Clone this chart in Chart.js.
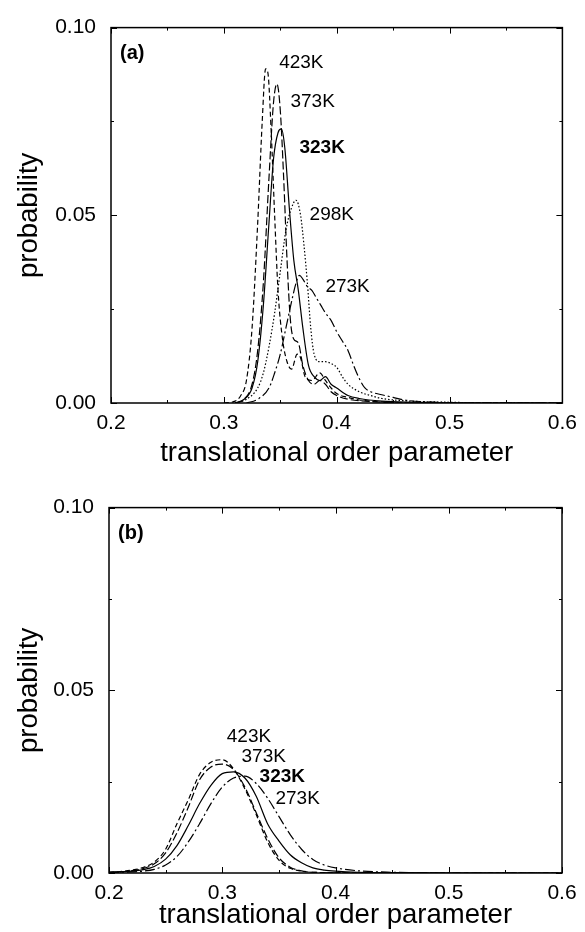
<!DOCTYPE html>
<html>
<head>
<meta charset="utf-8">
<script src="https://cdn.jsdelivr.net/npm/chart.js@4.4.1/dist/chart.umd.min.js"></script>
<style>
  html, body { margin: 0; padding: 0; background: #fff; }
  #wrap { position: relative; width: 585px; height: 932px; }
  canvas { position: absolute; left: 0; }
  #chartA { top: 0; }
  #chartB { top: 480px; }
</style>
</head>
<body>
<div id="wrap">
  <canvas id="chartA" width="585" height="480"></canvas>
  <canvas id="chartB" width="585" height="452"></canvas>
</div>
<script>
// (a) translational order parameter distributions, [x, probability]
const a423 = [[0.300,0],[0.310,0.0005],[0.315,0.002],[0.320,0.006],[0.325,0.02],[0.330,0.048],[0.334,0.075],[0.337,0.089],[0.339,0.088],[0.342,0.072],[0.345,0.05],[0.348,0.03],[0.352,0.017],[0.356,0.011],[0.360,0.009],[0.365,0.013],[0.368,0.012],[0.372,0.007],[0.378,0.006],[0.385,0.008],[0.390,0.006],[0.395,0.004],[0.400,0.0025],[0.410,0.0015],[0.420,0.0008],[0.440,0.0003],[0.470,0],[0.600,0]];
const a373 = [[0.310,0],[0.318,0.001],[0.325,0.005],[0.330,0.014],[0.335,0.032],[0.340,0.06],[0.344,0.08],[0.347,0.085],[0.350,0.078],[0.353,0.06],[0.356,0.038],[0.359,0.022],[0.362,0.017],[0.366,0.016],[0.370,0.01],[0.375,0.006],[0.380,0.005],[0.385,0.006],[0.390,0.005],[0.395,0.003],[0.400,0.002],[0.410,0.001],[0.430,0.0004],[0.460,0],[0.600,0]];
const a323 = [[0.310,0],[0.318,0.001],[0.325,0.004],[0.330,0.011],[0.335,0.026],[0.340,0.048],[0.344,0.065],[0.348,0.072],[0.351,0.073],[0.354,0.068],[0.358,0.052],[0.362,0.038],[0.366,0.03],[0.370,0.02],[0.375,0.01],[0.380,0.007],[0.385,0.006],[0.390,0.007],[0.395,0.005],[0.400,0.004],[0.410,0.002],[0.420,0.0012],[0.440,0.0005],[0.470,0.0002],[0.500,0],[0.600,0]];
const a298 = [[0.310,0],[0.320,0.001],[0.330,0.004],[0.335,0.008],[0.340,0.015],[0.345,0.024],[0.350,0.035],[0.355,0.046],[0.360,0.052],[0.364,0.054],[0.368,0.05],[0.371,0.042],[0.374,0.032],[0.377,0.02],[0.380,0.013],[0.385,0.011],[0.390,0.011],[0.395,0.0105],[0.400,0.0095],[0.405,0.007],[0.410,0.005],[0.420,0.003],[0.430,0.002],[0.440,0.0012],[0.460,0.0006],[0.500,0.0002],[0.550,0],[0.600,0]];
const a273 = [[0.320,0],[0.330,0.001],[0.340,0.004],[0.345,0.008],[0.350,0.013],[0.355,0.02],[0.360,0.027],[0.364,0.032],[0.367,0.034],[0.370,0.033],[0.374,0.031],[0.378,0.03],[0.382,0.028],[0.386,0.026],[0.390,0.024],[0.395,0.022],[0.400,0.019],[0.405,0.0165],[0.410,0.014],[0.415,0.01],[0.420,0.0065],[0.425,0.004],[0.430,0.003],[0.440,0.0022],[0.450,0.0015],[0.460,0.0008],[0.480,0.0003],[0.500,0.0001],[0.600,0]];

// (b)
const b423 = [[0.200,0.0002],[0.210,0.0004],[0.220,0.0008],[0.230,0.0015],[0.240,0.003],[0.250,0.0065],[0.260,0.0135],[0.270,0.020],[0.280,0.027],[0.290,0.0303],[0.300,0.031],[0.310,0.0285],[0.320,0.023],[0.330,0.016],[0.340,0.0085],[0.350,0.0035],[0.360,0.0013],[0.370,0.0005],[0.380,0.0002],[0.400,0.0001],[0.450,0],[0.600,0]];
const b373 = [[0.200,0.0002],[0.210,0.0003],[0.220,0.0006],[0.230,0.0012],[0.240,0.0025],[0.250,0.0055],[0.260,0.011],[0.270,0.018],[0.280,0.0255],[0.290,0.029],[0.300,0.0298],[0.310,0.0283],[0.320,0.0235],[0.330,0.0165],[0.340,0.0095],[0.350,0.0042],[0.360,0.0016],[0.370,0.0006],[0.380,0.0002],[0.420,0],[0.600,0]];
const b323 = [[0.200,0.0002],[0.220,0.0005],[0.230,0.0009],[0.240,0.0018],[0.250,0.0038],[0.260,0.0075],[0.270,0.013],[0.280,0.019],[0.290,0.024],[0.300,0.0272],[0.310,0.0277],[0.320,0.026],[0.330,0.021],[0.340,0.0135],[0.350,0.0088],[0.360,0.005],[0.370,0.0028],[0.380,0.0014],[0.390,0.0008],[0.400,0.0005],[0.420,0.0002],[0.450,0.0001],[0.500,0],[0.600,0]];
const b273 = [[0.200,0.0001],[0.220,0.0003],[0.230,0.0005],[0.240,0.001],[0.250,0.0022],[0.260,0.0045],[0.270,0.0085],[0.280,0.0135],[0.290,0.019],[0.300,0.0235],[0.310,0.026],[0.320,0.0265],[0.330,0.0245],[0.340,0.0205],[0.350,0.0155],[0.360,0.0105],[0.370,0.0065],[0.380,0.0037],[0.390,0.0022],[0.400,0.0014],[0.420,0.0006],[0.450,0.0002],[0.500,0],[0.600,0]];

// curve labels: text, x value of left edge, y value of middle
const labelsA = ['423K', '373K', '323K', '298K', '273K'];
const labelXA = [0.349, 0.359, 0.367, 0.376, 0.390];
const labelYA = [0.0906, 0.0803, 0.068, 0.0501, 0.031];
const labelsB = ['423K', '373K', '323K', '273K'];
const labelXB = [0.304, 0.317, 0.333, 0.347];
const labelYB = [0.0374, 0.0318, 0.0263, 0.0204];

const xTicks = [0.2, 0.3, 0.4, 0.5, 0.6];
const yTicks = [0.00, 0.05, 0.10];

const FONT = "'Liberation Sans', Arial, sans-serif";

function toXY(pairs) {
  return pairs.map(function(p) { return {x: p[0], y: p[1]}; });
}

function line(pairs, dash) {
  return {
    data: toXY(pairs),
    borderColor: '#000',
    borderWidth: 1.2,
    borderDash: dash,
    pointRadius: 0,
    fill: false,
    cubicInterpolationMode: 'monotone'
  };
}

// frame, inward ticks and curve labels
function framePlugin(panel, names, lx, ly) {
  return {
    id: 'frame',
    afterDatasetsDraw: function(chart) {
      const ctx = chart.ctx;
      const a = chart.chartArea;
      const xs = chart.scales.x, ys = chart.scales.y;
      ctx.save();
      ctx.strokeStyle = '#000';
      ctx.lineWidth = 1.5;
      ctx.strokeRect(a.left, a.top, a.right - a.left, a.bottom - a.top);
      ctx.lineWidth = 1;
      for (let i = 0; i <= 8; i++) {
        const px = Math.round(xs.getPixelForValue(0.2 + i * 0.05)) + 0.5;
        const len = i % 2 === 0 ? 6 : 3;
        ctx.beginPath();
        ctx.moveTo(px, a.bottom); ctx.lineTo(px, a.bottom - len);
        ctx.moveTo(px, a.top); ctx.lineTo(px, a.top + len);
        ctx.stroke();
      }
      for (let j = 0; j <= 4; j++) {
        const py = Math.round(ys.getPixelForValue(j * 0.025)) + 0.5;
        const len = j % 2 === 0 ? 6 : 3;
        ctx.beginPath();
        ctx.moveTo(a.left, py); ctx.lineTo(a.left + len, py);
        ctx.moveTo(a.right, py); ctx.lineTo(a.right - len, py);
        ctx.stroke();
      }
      ctx.fillStyle = '#000';
      ctx.textBaseline = 'middle';
      ctx.textAlign = 'left';
      ctx.font = 'bold 20px ' + FONT;
      ctx.fillText(panel, xs.getPixelForValue(0.208), ys.getPixelForValue(0.093));
      names.forEach(function(t, i) {
        ctx.font = (t === '323K' ? 'bold ' : '') + '19px ' + FONT;
        ctx.fillText(t, xs.getPixelForValue(lx[i]), ys.getPixelForValue(ly[i]));
      });
      ctx.restore();
    }
  };
}

function makeOptions(padTop, padRight, yWidth, xHeight, titlePadBottom) {
  return {
    responsive: false,
    animation: false,
    devicePixelRatio: 1,
    layout: { padding: { top: padTop, right: padRight, left: 0, bottom: 0 } },
    plugins: { legend: { display: false }, tooltip: { enabled: false } },
    scales: {
      x: {
        type: 'linear', min: 0.2, max: 0.6,
        afterBuildTicks: function(s) { s.ticks = xTicks.map(function(v) { return {value: v}; }); },
        afterFit: function(s) { s.height = xHeight; },
        grid: { display: false, drawTicks: false },
        border: { display: false },
        ticks: { color: '#000', padding: 8, font: { family: FONT, size: 21 },
                 callback: function(v) { return v.toFixed(1); } },
        title: { display: true, text: 'translational order parameter', color: '#000',
                 font: { family: FONT, size: 27.5 }, padding: { top: 0, bottom: titlePadBottom } }
      },
      y: {
        min: 0, max: 0.1,
        afterBuildTicks: function(s) { s.ticks = yTicks.map(function(v) { return {value: v}; }); },
        afterFit: function(s) { s.width = yWidth; },
        grid: { display: false, drawTicks: false },
        border: { display: false },
        ticks: { color: '#000', padding: 15, font: { family: FONT, size: 21 },
                 callback: function(v) { return v.toFixed(2); } },
        title: { display: true, text: 'probability', color: '#000',
                 font: { family: FONT, size: 27.5 }, padding: { top: 13, bottom: 0 } }
      }
    }
  };
}

new Chart(document.getElementById('chartA'), {
  type: 'line',
  data: {
    datasets: [
      line(a423, [5, 3]),
      line(a373, [8, 3]),
      line(a323, []),
      line(a298, [1.5, 2]),
      line(a273, [10, 3, 2, 3])
    ]
  },
  options: makeOptions(22, 17, 111, 77, 10),
  plugins: [framePlugin('(a)', labelsA, labelXA, labelYA)]
});

new Chart(document.getElementById('chartB'), {
  type: 'line',
  data: {
    datasets: [
      line(b423, [5, 3]),
      line(b373, [8, 3]),
      line(b323, []),
      line(b273, [10, 3, 2, 3])
    ]
  },
  options: makeOptions(16, 23, 109, 59, 0),
  plugins: [framePlugin('(b)', labelsB, labelXB, labelYB)]
});
</script>
</body>
</html>
